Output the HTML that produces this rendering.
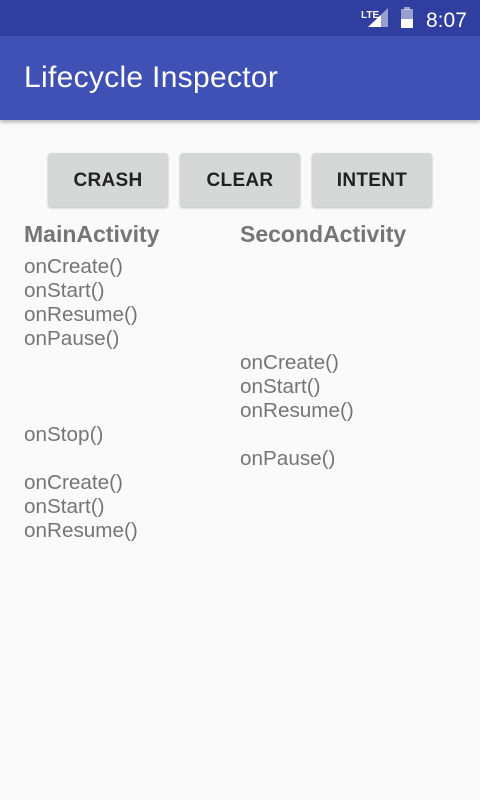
<!DOCTYPE html>
<html><head><style>
body{margin:0;width:480px;height:800px;background:#FAFAFA;font-family:"Liberation Sans",Roboto,sans-serif;position:relative;overflow:hidden}
.sb{position:absolute;left:0;top:0;width:480px;height:36px;background:#303F9F}
.ab{position:absolute;left:0;top:36px;width:480px;height:84px;background:#3F51B5;box-shadow:0 2px 4px rgba(0,0,0,.3)}
.title{position:absolute;left:24px;top:60px;color:#fff;font-size:30px;line-height:36px;letter-spacing:.3px}
.btn{position:absolute;top:153px;width:120px;height:54px;background:#D6D7D7;border-radius:3px;box-shadow:0 1px 2px rgba(0,0,0,.25);font-size:19px;font-weight:bold;color:#222;text-align:center;line-height:56px;letter-spacing:.3px}
.h{position:absolute;top:220px;font-size:23px;font-weight:bold;color:#757575;line-height:28px}
.col{position:absolute;top:255px;font-size:20.7px;line-height:24px;color:#757575;white-space:pre}
</style></head><body>
<div class="sb">
<svg width="480" height="36" style="position:absolute;left:0;top:0">
<text x="361" y="18" fill="#fff" font-size="10" font-weight="bold" font-family="Liberation Sans">LTE</text>
<polygon points="368,27 388,27 388,8" fill="#fff" opacity=".5"/>
<polygon points="368,27 381,27 381,15" fill="#fff"/>
<rect x="401" y="9" width="12" height="19" fill="#fff" opacity=".5"/>
<rect x="404" y="7" width="6" height="3" fill="#fff" opacity=".5"/>
<rect x="401" y="19" width="12" height="9" fill="#fff"/>
<text x="426" y="27" fill="#fff" font-size="21" font-family="Liberation Sans">8:07</text>
</svg></div>
<div class="ab"></div>
<div class="title">Lifecycle Inspector</div>
<div class="btn" style="left:48px">CRASH</div>
<div class="btn" style="left:180px">CLEAR</div>
<div class="btn" style="left:312px">INTENT</div>
<div class="h" style="left:24px">MainActivity</div>
<div class="h" style="left:240px">SecondActivity</div>
<div class="col" style="left:24px">onCreate()
onStart()
onResume()
onPause()



onStop()

onCreate()
onStart()
onResume()</div>
<div class="col" style="left:240px">



onCreate()
onStart()
onResume()

onPause()</div>
</body></html>
